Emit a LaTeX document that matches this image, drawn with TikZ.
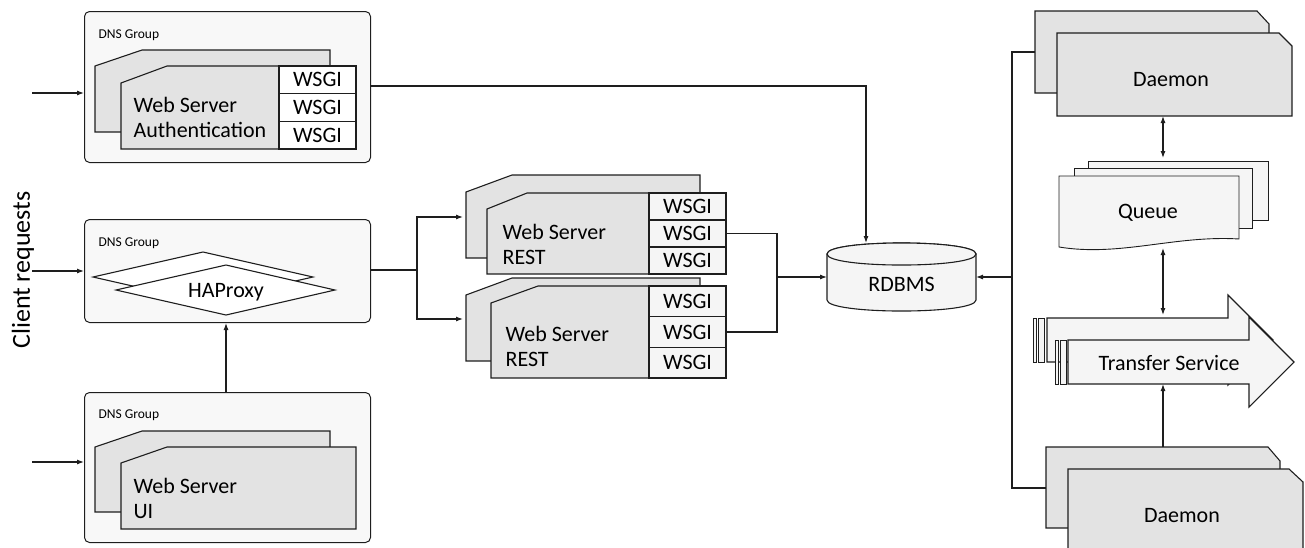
\documentclass[tikz,border=0pt]{standalone}
\usepackage{fontspec}
\setmainfont{Carlito}
\usetikzlibrary{arrows.meta}
\definecolor{grp}{RGB}{248,248,248}
\definecolor{srv}{RGB}{227,227,227}
\definecolor{lt}{RGB}{245,245,245}
\definecolor{ln}{RGB}{30,30,30}
\begin{document}
\begin{tikzpicture}[x=1pt,y=-1pt,line width=1.1pt,draw=ln,
  arr/.style={-{Latex[length=7pt,width=5pt]}},
  darr/.style={{Latex[length=7pt,width=5pt]}-{Latex[length=7pt,width=5pt]}},
  grpbox/.style={draw,fill=grp,rounded corners=5pt,line width=1pt,anchor=north west,inner sep=0pt},
  srvshape/.style={draw,fill=srv},
  tab/.style={draw,fill=lt,line width=0.7pt},
  wsgi/.style={draw,fill=#1,minimum width=77pt,inner sep=0pt,font=\fontsize{22}{24}\selectfont},
  lbl/.style={font=\fontsize{22}{25}\selectfont,align=left,inner sep=0pt,anchor=west},
  dns/.style={font=\fontsize{13.5}{15}\selectfont,anchor=west,inner sep=0pt},
  big/.style={font=\fontsize{22}{24}\selectfont,inner sep=0pt}]
\useasboundingbox (0,0) rectangle (1305,547);

% ---------- group 1 ----------
\node[grpbox,minimum width=286pt,minimum height=151pt] (g1) at (84,11) {};
\node[dns] (g1l) at (98,35) {DNS Group};
\draw[srvshape] (95,66) -- (142,50) -- (330,50) -- (330,132) -- (95,132) -- cycle;
\draw[srvshape] (121,83) -- (167,66) -- (279,66) -- (279,149) -- (121,149) -- cycle;
\node[lbl] (auth) at (133,117.5) {Web Server\\Authentication};
\node[wsgi=white,minimum height=27.67pt] (a1) at (317.5,79.8) {WSGI};
\node[wsgi=white,minimum height=27.67pt] (a2) at (317.5,107.5) {WSGI};
\node[wsgi=white,minimum height=27.67pt] (a3) at (317.5,135.2) {WSGI};

% ---------- group 2 ----------
\node[grpbox,minimum width=286pt,minimum height=103pt] (g2) at (84,219) {};
\node[dns] (g2l) at (98,243) {DNS Group};
\draw[fill=white] (93,277) -- (203,252) -- (313,277) -- (203,302) -- cycle;
\draw[fill=white] (116,290) -- (226,265) -- (335,290) -- (226,315) -- cycle;
\node[big] (hap) at (226,292) {HAProxy};

% ---------- group 3 ----------
\node[grpbox,minimum width=286pt,minimum height=150pt] (g3) at (84,392) {};
\node[dns] (g3l) at (98,415) {DNS Group};
\draw[srvshape] (95,447) -- (142,431) -- (330,431) -- (330,512) -- (95,512) -- cycle;
\draw[srvshape] (121,463) -- (167,447) -- (356,447) -- (356,529) -- (121,529) -- cycle;
\node[lbl] (ui) at (133,498.5) {Web Server\\UI};

% ---------- client requests ----------
\node[rotate=90,font=\fontsize{26}{30}\selectfont,inner sep=0pt] (client) at (23,270) {Client requests};
\coordinate (in1) at (32,93);
\coordinate (in2) at (32,271);
\coordinate (in3) at (32,462);
\draw[arr] (in1) -- (in1 -| g1.west);
\draw[arr] (in2) -- (in2 -| g2.west);
\draw[arr] (in3) -- (in3 -| g3.west);
\draw[arr] (g3.north -| hap) -- (g2.south -| hap);

% ---------- REST servers ----------
\draw[srvshape] (466,192) -- (512,175) -- (700,175) -- (700,258) -- (466,258) -- cycle;
\draw[srvshape] (487,209) -- (527,193) -- (649,193) -- (649,274) -- (487,274) -- cycle;
\node[lbl] (r1) at (502,244.5) {Web Server\\REST};
\node[wsgi=lt,minimum height=27pt] (r1a) at (687.5,206.5) {WSGI};
\node[wsgi=lt,minimum height=27pt] (r1b) at (687.5,233.5) {WSGI};
\node[wsgi=lt,minimum height=27pt] (r1c) at (687.5,260.5) {WSGI};

\draw[srvshape] (466,295) -- (512,278) -- (700,278) -- (700,361) -- (466,361) -- cycle;
\draw[srvshape] (491,303) -- (538,286) -- (649,286) -- (649,378) -- (491,378) -- cycle;
\node[lbl] (r2) at (505,346.5) {Web Server\\REST};
\node[wsgi=lt,minimum height=30.67pt] (r2a) at (687.5,301.3) {WSGI};
\node[wsgi=lt,minimum height=30.67pt] (r2b) at (687.5,332) {WSGI};
\node[wsgi=lt,minimum height=30.67pt] (r2c) at (687.5,362.7) {WSGI};

\coordinate (rin1) at (463,217);
\coordinate (rin2) at (463,319);
\coordinate (split) at (417,270);
\draw (g2.east |- split) -- (split);
\draw[arr] (split) |- (rin1);
\draw[arr] (split) |- (rin2);

% ---------- RDBMS ----------
\draw[fill=lt] (827,254) -- (827,300) .. controls (827,314.7) and (976,314.7) .. (976,300) -- (976,254) .. controls (976,239.3) and (827,239.3) .. (827,254) -- cycle;
\draw[fill=lt] (827,254) .. controls (827,239.3) and (976,239.3) .. (976,254) .. controls (976,268.7) and (827,268.7) .. (827,254) -- cycle;
\node[big] (db) at (901.5,284) {RDBMS};
\coordinate (dbw) at (827,277);
\coordinate (dbe) at (976,277);
\coordinate (dbn) at (866,243);
\coordinate (join) at (777,277);

\draw[arr] (g1.east |- 0,86) -| (dbn);
\draw (r1b.east) -| (join);
\draw (r2b.east) -| (join);
\draw[arr] (join) -- (dbw);

% ---------- daemons (top) ----------
\draw[srvshape] (1035,11) -- (1257,11) -- (1269,24) -- (1269,93) -- (1035,93) -- cycle;
\draw[srvshape] (1057,33) -- (1279,33) -- (1292,46) -- (1292,116) -- (1057,116) -- cycle;
\node[big] (d1) at (1171,80) {Daemon};

% ---------- queue ----------
\draw[fill=lt,line width=0.9pt] (1088,161) rectangle (1268,220);
\draw[fill=lt,line width=0.9pt] (1074,168) rectangle (1252,228);
\draw[fill=lt,line width=0.9pt] (1059,176) -- (1239,176) -- (1239,239) .. controls (1175,235) and (1120,257) .. (1059,247) -- cycle;
\node[big] (q) at (1148,213) {Queue};

% ---------- transfer service ----------
\draw[fill=lt] (1047,318) -- (1228,318) -- (1228,295) -- (1273,340) -- (1228,385) -- (1228,362) -- (1047,362) -- cycle;
\draw[tab] (1033,318) rectangle (1036,362);
\draw[tab] (1038,318) rectangle (1044,362);
\draw[fill=lt] (1068,340) -- (1249,340) -- (1249,317) -- (1294,362) -- (1249,407) -- (1249,384) -- (1068,384) -- cycle;
\draw[tab] (1055,340) rectangle (1058,384);
\draw[tab] (1060,340) rectangle (1066,384);
\node[big] (ts) at (1169,363) {Transfer Service};

% ---------- daemons (bottom) ----------
\draw[srvshape] (1046,447) -- (1268,447) -- (1280,461) -- (1280,528) -- (1046,528) -- cycle;
\draw[srvshape] (1068,469) -- (1289,469) -- (1303,482) -- (1303,560) -- (1068,560) -- cycle;
\node[big] (d2) at (1182,516) {Daemon};

% ---------- right connectors ----------
\coordinate (d1top) at (1163,116);
\coordinate (qtop) at (1163,158);
\coordinate (qbot) at (1163,248);
\coordinate (tstop) at (1163,315);
\coordinate (tsbot) at (1163,384);
\coordinate (d2top) at (1163,447);
\draw[darr] (d1top) -- (qtop);
\draw[darr] (qbot) -- (tstop);
\draw[arr] (d2top) -- (tsbot);
\coordinate (bus) at (1012,277);
\coordinate (d1w) at (1035,52);
\coordinate (d2w) at (1046,488);
\draw (d1w) -| (bus);
\draw (d2w) -| (bus);
\draw[arr] (bus) -- (dbe);
\end{tikzpicture}
\end{document}
